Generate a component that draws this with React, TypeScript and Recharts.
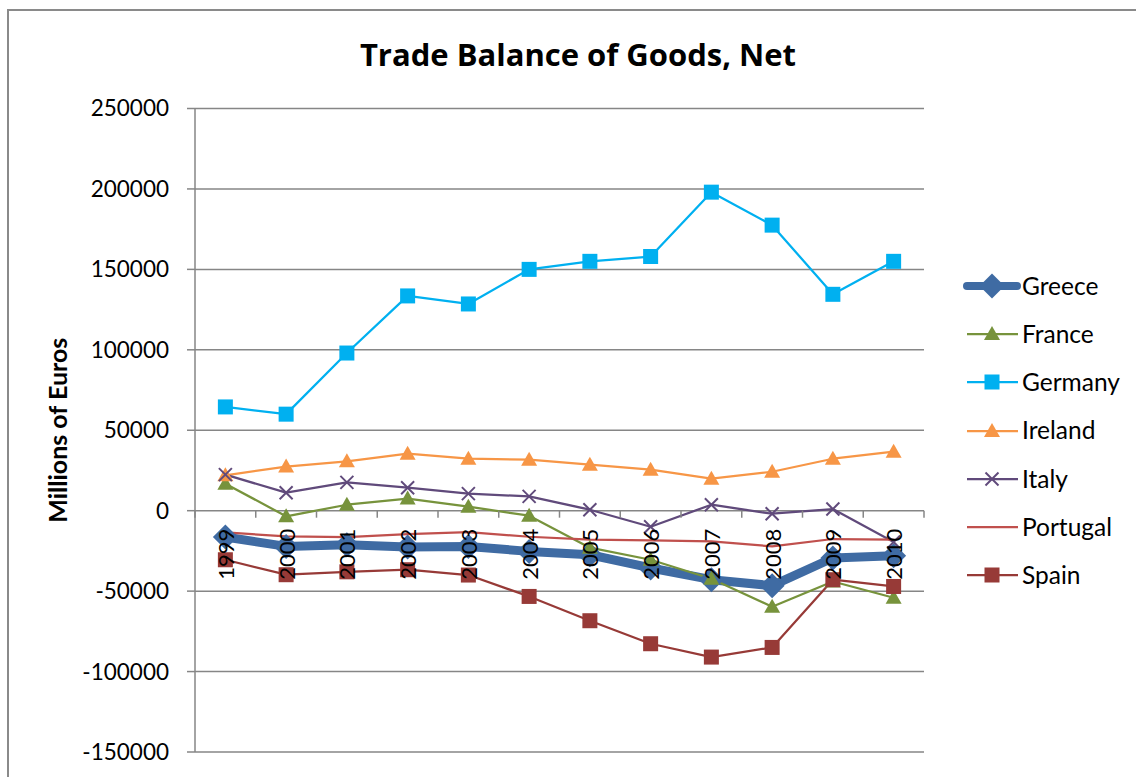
import React from 'react';
import { LineChart, Line, XAxis, YAxis, CartesianGrid, Legend } from 'recharts';

const years = ['1999', '2000', '2001', '2002', '2003', '2004', '2005', '2006', '2007', '2008', '2009', '2010'];
const greece = [-16400, -22200, -21100, -22600, -22200, -25300, -27400, -35600, -42900, -46600, -29400, -28000];
const france = [16800, -3500, 3700, 7500, 2500, -3100, -23000, -30500, -42300, -59700, -44000, -54100];
const germany = [64500, 60000, 98000, 133500, 128500, 150000, 155000, 158000, 198000, 177500, 134500, 155000];
const ireland = [22000, 27400, 30700, 35400, 32300, 31700, 28600, 25500, 19900, 24200, 32300, 36700];
const italy = [22400, 11200, 17600, 14300, 10600, 8900, 600, -10000, 3700, -1900, 1000, -19500];
const portugal = [-13500, -16000, -16500, -14500, -13300, -16200, -18000, -18500, -19100, -22200, -17600, -18000];
const spain = [-30500, -39800, -38000, -36700, -40000, -53300, -68400, -82700, -91000, -85000, -42900, -47100];
const yTicks = [250000, 200000, 150000, 100000, 50000, 0, -50000, -100000, -150000];

const seriesNames = ['Greece', 'France', 'Germany', 'Ireland', 'Italy', 'Portugal', 'Spain'];
const seriesValues = [greece, france, germany, ireland, italy, portugal, spain];
const seriesColors = ['#3F6BA3', '#77933C', '#00B0F0', '#F79646', '#604A7B', '#C0504D', '#973A37'];
const seriesMarkers = ['diamond', 'triangle', 'square', 'triangle', 'cross', 'none', 'square'];
const seriesWidths = [9, 2.25, 2.25, 2.25, 2.25, 2.25, 2.25];

const data = years.map((y, i) => {
  const row: any = { year: y };
  seriesNames.forEach((n, k) => {
    row[n] = seriesValues[k][i];
  });
  return row;
});

const FONT = 'Lato, "Noto Sans", sans-serif';
const TITLE_FONT = '"Open Sans", Lato, sans-serif';
const W = 1136;
const H = 777;
const PLOT_LEFT = 195;
const PLOT_RIGHT = 924;
const PLOT_TOP = 108.5;
const PLOT_BOTTOM = 752;
const Y_MIN = -150000;
const Y_MAX = 250000;
const ZERO_Y = PLOT_TOP + ((PLOT_BOTTOM - PLOT_TOP) * Y_MAX) / (Y_MAX - Y_MIN);
const STEP = (PLOT_RIGHT - PLOT_LEFT) / years.length;

function Marker({ type, cx, cy, color }: { type: string; cx: number; cy: number; color: string }) {
  if (cx == null || cy == null || isNaN(cx) || isNaN(cy)) return null;
  if (type === 'diamond') {
    const r = 12.5;
    return <path d={`M${cx},${cy - r}L${cx + r},${cy}L${cx},${cy + r}L${cx - r},${cy}Z`} fill={color} />;
  }
  if (type === 'square') {
    const r = 7.5;
    return <rect x={cx - r} y={cy - r} width={2 * r} height={2 * r} fill={color} />;
  }
  if (type === 'triangle') {
    return <path d={`M${cx},${cy - 8}L${cx + 8},${cy + 6}L${cx - 8},${cy + 6}Z`} fill={color} />;
  }
  if (type === 'cross') {
    const r = 6.5;
    return (
      <g stroke={color} strokeWidth={2}>
        <line x1={cx - r} y1={cy - r} x2={cx + r} y2={cy + r} />
        <line x1={cx - r} y1={cy + r} x2={cx + r} y2={cy - r} />
      </g>
    );
  }
  return null;
}

function makeDot(k: number) {
  return (props: any) => (
    <Marker key={`${seriesNames[k]}-${props.index}`} type={seriesMarkers[k]} cx={props.cx} cy={props.cy} color={seriesColors[k]} />
  );
}

function XTick(props: any) {
  const { x, payload, index } = props;
  const isLast = index === years.length - 1;
  return (
    <g>
      <line x1={x - STEP / 2} y1={ZERO_Y} x2={x - STEP / 2} y2={ZERO_Y + 7} stroke="#868686" strokeWidth={1.5} />
      {isLast && <line x1={x + STEP / 2} y1={ZERO_Y} x2={x + STEP / 2} y2={ZERO_Y + 7} stroke="#868686" strokeWidth={1.5} />}
      <text
        x={x}
        y={ZERO_Y + 18}
        transform={`rotate(-90 ${x} ${ZERO_Y + 18})`}
        textAnchor="end"
        dominantBaseline="central"
        fontFamily={FONT}
        fontSize={22}
        fill="#000"
      >
        {payload.value}
      </text>
    </g>
  );
}

function renderLegend(props: any) {
  const payload = props.payload || [];
  const items = seriesNames.filter((n) => payload.some((p: any) => p.value === n));
  return (
    <div style={{ paddingLeft: 38 }}>
      {items.map((name) => {
        const k = seriesNames.indexOf(name);
        const color = seriesColors[k];
        return (
          <div key={name} style={{ height: 48.2, display: 'flex', alignItems: 'center' }}>
            <svg width={60} height={30} style={{ display: 'block' }}>
              <line
                x1={5}
                y1={15}
                x2={k === 0 ? 55 : 56}
                y2={15}
                stroke={color}
                strokeWidth={k === 0 ? 8 : 2.25}
                strokeLinecap={k === 0 ? 'round' : 'butt'}
              />
              <Marker type={seriesMarkers[k]} cx={30} cy={15} color={color} />
            </svg>
            <span style={{ fontFamily: FONT, fontSize: 24.5, color: '#000', lineHeight: 1 }}>{name}</span>
          </div>
        );
      })}
    </div>
  );
}

function YTitle(props: any) {
  const vb = props.viewBox || {};
  const cy = (vb.y ?? PLOT_TOP) + (vb.height ?? PLOT_BOTTOM - PLOT_TOP) / 2;
  return (
    <text
      x={57}
      y={cy}
      transform={`rotate(-90 57 ${cy})`}
      textAnchor="middle"
      dominantBaseline="central"
      fontFamily={FONT}
      fontWeight="bold"
      fontSize={25}
      fill="#000"
    >
      Millions of Euros
    </text>
  );
}

export default function App() {
  return (
    <div style={{ position: 'absolute', left: 0, top: 0, width: W, height: H, background: '#fff', overflow: 'hidden' }}>
      <div
        style={{
          position: 'absolute',
          left: 7,
          top: 9,
          width: W + 20,
          height: H + 20,
          border: '2px solid #8a8a8a',
          boxSizing: 'border-box',
        }}
      />
      <div
        style={{
          position: 'absolute',
          left: 0,
          width: W,
          top: 34,
          textAlign: 'center',
          fontFamily: TITLE_FONT,
          fontWeight: 'bold',
          fontSize: 31,
          color: '#000',
          lineHeight: '40px',
          paddingLeft: 20,
          boxSizing: 'border-box',
        }}
      >
        Trade Balance of Goods, Net
      </div>
      <div style={{ position: 'absolute', left: 0, top: 0 }}>
        <LineChart
          width={W}
          height={H}
          data={data}
          margin={{ top: PLOT_TOP, right: 0, left: 0, bottom: 0 }}
        >
          <CartesianGrid vertical={false} stroke="#868686" strokeWidth={1.5} />
          <YAxis
            width={PLOT_LEFT}
            domain={[Y_MIN, Y_MAX]}
            ticks={yTicks}
            interval={0}
            allowDataOverflow
            axisLine={{ stroke: '#868686', strokeWidth: 1.5 }}
            tickLine={{ stroke: '#868686', strokeWidth: 1.5 }}
            tickSize={8}
            tickMargin={18}
            tick={{ fontFamily: FONT, fontSize: 22.5, fill: '#000' }}
            label={<YTitle />}
          />
          <Legend
            layout="vertical"
            align="right"
            verticalAlign="middle"
            content={renderLegend}
            wrapperStyle={{ width: W - PLOT_RIGHT, top: 262 }}
          />
          {seriesNames.map((n, k) => (
            <Line
              key={n}
              dataKey={n}
              name={n}
              stroke={seriesColors[k]}
              strokeWidth={seriesWidths[k]}
              dot={seriesMarkers[k] === 'none' ? false : makeDot(k)}
              activeDot={false}
              isAnimationActive={false}
              strokeLinejoin="round"
            />
          ))}
          <XAxis
            dataKey="year"
            height={H - PLOT_BOTTOM}
            padding={{ left: STEP / 2, right: STEP / 2 }}
            axisLine={false}
            tickLine={false}
            interval={0}
            tick={<XTick />}
          />
        </LineChart>
      </div>
    </div>
  );
}
